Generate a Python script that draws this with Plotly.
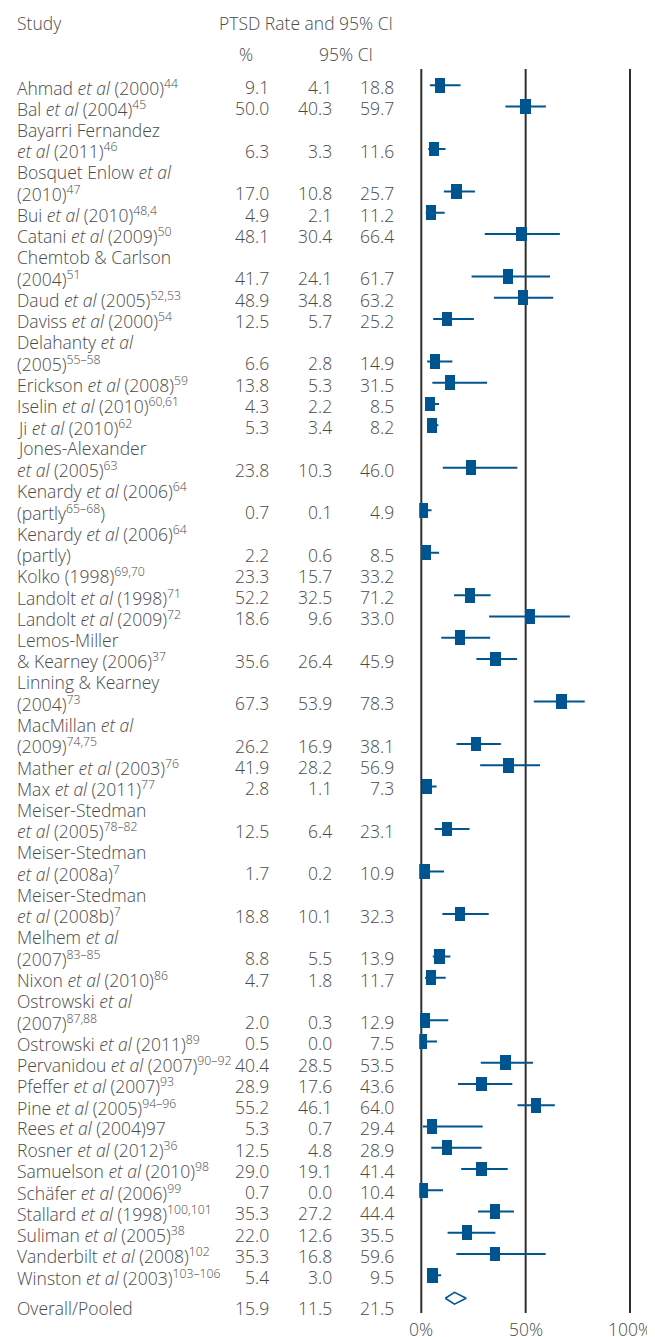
import plotly.graph_objects as go

# ---------------- data ----------------
studies = [
    "Ahmad <i>et al</i> (2000)<sup>44</sup>",
    "Bal <i>et al</i> (2004)<sup>45</sup>",
    "Bayarri Fernandez<br><i>et al</i> (2011)<sup>46</sup>",
    "Bosquet Enlow <i>et al</i><br>(2010)<sup>47</sup>",
    "Bui <i>et al</i> (2010)<sup>48,4</sup>",
    "Catani <i>et al</i> (2009)<sup>50</sup>",
    "Chemtob &amp; Carlson<br>(2004)<sup>51</sup>",
    "Daud <i>et al</i> (2005)<sup>52,53</sup>",
    "Daviss <i>et al</i> (2000)<sup>54</sup>",
    "Delahanty <i>et al</i><br>(2005)<sup>55–58</sup>",
    "Erickson <i>et al</i> (2008)<sup>59</sup>",
    "Iselin <i>et al</i> (2010)<sup>60,61</sup>",
    "Ji <i>et al</i> (2010)<sup>62</sup>",
    "Jones-Alexander<br><i>et al</i> (2005)<sup>63</sup>",
    "Kenardy <i>et al</i> (2006)<sup>64</sup><br>(partly<sup>65–68</sup>)",
    "Kenardy <i>et al</i> (2006)<sup>64</sup><br>(partly)",
    "Kolko (1998)<sup>69,70</sup>",
    "Landolt <i>et al</i> (1998)<sup>71</sup>",
    "Landolt <i>et al</i> (2009)<sup>72</sup>",
    "Lemos-Miller<br>&amp; Kearney (2006)<sup>37</sup>",
    "Linning &amp; Kearney<br>(2004)<sup>73</sup>",
    "MacMillan <i>et al</i><br>(2009)<sup>74,75</sup>",
    "Mather <i>et al</i> (2003)<sup>76</sup>",
    "Max <i>et al</i> (2011)<sup>77</sup>",
    "Meiser-Stedman<br><i>et al</i> (2005)<sup>78–82</sup>",
    "Meiser-Stedman<br><i>et al</i> (2008a)<sup>7</sup>",
    "Meiser-Stedman<br><i>et al</i> (2008b)<sup>7</sup>",
    "Melhem <i>et al</i><br>(2007)<sup>83–85</sup>",
    "Nixon <i>et al</i> (2010)<sup>86</sup>",
    "Ostrowski <i>et al</i><br>(2007)<sup>87,88</sup>",
    "Ostrowski <i>et al</i> (2011)<sup>89</sup>",
    "Pervanidou <i>et al</i> (2007)<sup>90–92</sup>",
    "Pfeffer <i>et al</i> (2007)<sup>93</sup>",
    "Pine <i>et al</i> (2005)<sup>94–96</sup>",
    "Rees <i>et al</i> (2004)97",
    "Rosner <i>et al</i> (2012)<sup>36</sup>",
    "Samuelson <i>et al</i> (2010)<sup>98</sup>",
    "Schäfer <i>et al</i> (2006)<sup>99</sup>",
    "Stallard <i>et al</i> (1998)<sup>100,101</sup>",
    "Suliman <i>et al</i> (2005)<sup>38</sup>",
    "Vanderbilt <i>et al</i> (2008)<sup>102</sup>",
    "Winston <i>et al</i> (2003)<sup>103–106</sup>",
]
rate = [9.1, 50.0, 6.3, 17.0, 4.9, 48.1, 41.7, 48.9, 12.5, 6.6, 13.8, 4.3, 5.3,
        23.8, 0.7, 2.2, 23.3, 52.2, 18.6, 35.6, 67.3, 26.2, 41.9, 2.8, 12.5, 1.7,
        18.8, 8.8, 4.7, 2.0, 0.5, 40.4, 28.9, 55.2, 5.3, 12.5, 29.0, 0.7, 35.3,
        22.0, 35.3, 5.4]
ci_low = [4.1, 40.3, 3.3, 10.8, 2.1, 30.4, 24.1, 34.8, 5.7, 2.8, 5.3, 2.2, 3.4,
          10.3, 0.1, 0.6, 15.7, 32.5, 9.6, 26.4, 53.9, 16.9, 28.2, 1.1, 6.4, 0.2,
          10.1, 5.5, 1.8, 0.3, 0.0, 28.5, 17.6, 46.1, 0.7, 4.8, 19.1, 0.0, 27.2,
          12.6, 16.8, 3.0]
ci_high = [18.8, 59.7, 11.6, 25.7, 11.2, 66.4, 61.7, 63.2, 25.2, 14.9, 31.5, 8.5,
           8.2, 46.0, 4.9, 8.5, 33.2, 71.2, 33.0, 45.9, 78.3, 38.1, 56.9, 7.3,
           23.1, 10.9, 32.3, 13.9, 11.7, 12.9, 7.5, 53.5, 43.6, 64.0, 29.4, 28.9,
           41.4, 10.4, 44.4, 35.5, 59.6, 9.5]
pooled_label = "Overall/Pooled"
pooled = [15.9, 11.5, 21.5]  # rate, low, high

# In the source figure these three markers are drawn one line lower than their text
marker_drop = ["Kolko (1998)", "Landolt <i>et al</i> (1998)", "Landolt <i>et al</i> (2009)"]

tick_vals = [0, 50, 100]
tick_text = ["0%", "50%", "100%"]

# ---------------- styling ----------------
BLUE = "#00548f"
TXT = "#4a4a4a"
FONT = "Open Sans"
FS = 17.5
PAGE_W, PAGE_H = 655, 1337
OFF = 8                      # page body margin
W, H = PAGE_W - OFF, PAGE_H - OFF
ROW0_PX, ROW_PX = 87.0, 21.25   # page-pixel y of first text row, row pitch
X0_PX, X100_PX = 421.3, 630.0   # page-pixel x of 0% and 100%


def px_to_row(py):
    return (py - ROW0_PX) / ROW_PX


def px_to_paper_x(px):
    return (px - OFF) / W


ppu = (X100_PX - X0_PX) / 100.0
xr = [-1, 101]
x_dom = [px_to_paper_x(X0_PX + xr[0] * ppu), px_to_paper_x(X0_PX + xr[1] * ppu)]

# ---------------- layout of rows ----------------
line_rows, line_texts, value_rows, marker_rows = [], [], [], []
r = 0
for s in studies:
    parts = s.split("<br>")
    for p in parts:
        line_rows.append(r)
        line_texts.append(p)
        r += 1
    value_rows.append(r - 1)
    base_name = parts[0].split("<sup>")[0]
    marker_rows.append(r - 1 + (1 if base_name in marker_drop else 0) - 0.08)
pooled_row = r
pooled_text_row = r + 0.45

fig = go.Figure()

# CI lines
cx, cy = [], []
for lo, hi, mr in zip(ci_low, ci_high, marker_rows):
    cx += [lo, hi, None]
    cy += [mr, mr, None]

# squares (drawn as short horizontal bars)
sq_w = 4.94
fig.add_trace(go.Bar(orientation="h", y=marker_rows, x=[sq_w] * len(rate),
                     base=[v - sq_w / 2 for v in rate], width=0.7,
                     marker=dict(color=BLUE, line=dict(width=0)), hoverinfo="skip"))
fig.add_trace(go.Scatter(x=cx, y=cy, mode="lines", line=dict(color=BLUE, width=2),
                         hoverinfo="skip"))

# pooled diamond
pe, pl, ph = pooled
dh = 0.28
fig.add_trace(go.Scatter(x=[pl, pe, ph, pe, pl],
                         y=[pooled_row, pooled_row - dh, pooled_row, pooled_row + dh, pooled_row],
                         mode="lines", fill="toself", fillcolor="white",
                         line=dict(color=BLUE, width=1.5), hoverinfo="skip"))

# vertical reference lines
for v in tick_vals:
    fig.add_shape(type="line", xref="x", yref="y", x0=v, x1=v,
                  y0=px_to_row(69), y1=px_to_row(1313),
                  line=dict(color="#2e2e2e", width=2), layer="below")

ann = []
font = dict(family=FONT, size=FS, color=TXT, weight=300)


def add_text(x_px, row, text, anchor="left"):
    ann.append(dict(x=px_to_paper_x(x_px), xref="paper", y=row, yref="y", text=text,
                    showarrow=False, xanchor=anchor, yanchor="middle", font=font))


# headers
add_text(15, px_to_row(23), "Study")
add_text(217, px_to_row(23), "PTSD Rate and 95% CI")
add_text(237, px_to_row(54), "%")
add_text(317, px_to_row(54), "95% CI")

for rr, t in zip(line_rows, line_texts):
    add_text(15, rr, t)
for rr, e, lo, hi in zip(value_rows, rate, ci_low, ci_high):
    add_text(271, rr, f"{e:.1f}", "right")
    add_text(334, rr, f"{lo:.1f}", "right")
    add_text(396, rr, f"{hi:.1f}", "right")

add_text(15, pooled_text_row, pooled_label)
add_text(271, pooled_text_row, f"{pe:.1f}", "right")
add_text(334, pooled_text_row, f"{pl:.1f}", "right")
add_text(396, pooled_text_row, f"{ph:.1f}", "right")

for v, t in zip(tick_vals, tick_text):
    ann.append(dict(x=v, xref="x", y=px_to_row(1329), yref="y", text=t, showarrow=False,
                    xanchor="center", yanchor="middle", font=font))

fig.update_layout(
    width=W, height=H, margin=dict(l=0, r=0, t=0, b=0),
    paper_bgcolor="white", plot_bgcolor="white", showlegend=False,
    xaxis=dict(domain=x_dom, range=xr, visible=False, fixedrange=True),
    yaxis=dict(range=[px_to_row(PAGE_H), px_to_row(OFF)], visible=False, fixedrange=True),
    annotations=ann, bargap=0,
)

fig.write_html("out.html")
